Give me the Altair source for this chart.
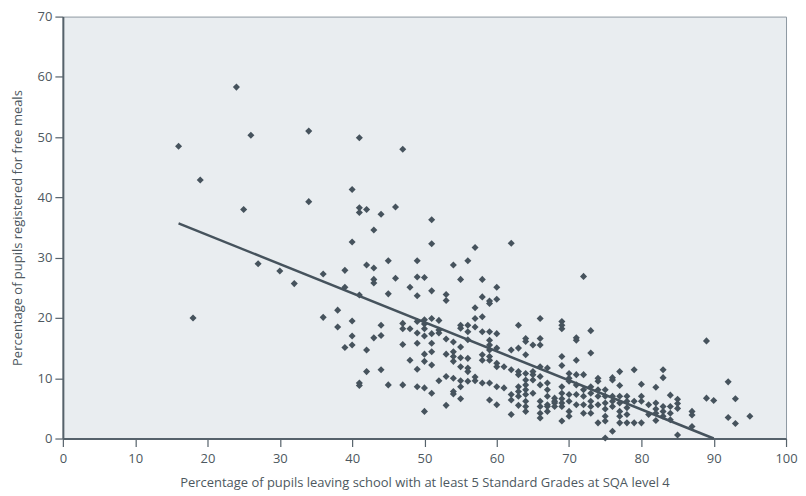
import altair as alt
import pandas as pd

# Percentage of pupils leaving school with at least 5 Standard Grades at SQA level 4
leavers_pct = [
    16, 18, 19, 24, 25, 26, 27, 30, 32, 34, 34,
    36, 36, 38, 38, 39, 39, 39,
    40, 40, 40, 40, 40,
    41, 41, 41, 41, 41, 41,
    42, 42, 42, 42,
    43, 43, 43, 43, 43,
    44, 44, 44, 44,
    45, 45, 45,
    46, 46,
    47, 47, 47, 47, 47,
    48, 48, 48,
    49, 49, 49, 49, 49, 49, 49, 49,
    50, 50, 50, 50, 50, 50, 50, 50, 50,
    51, 51, 51, 51, 51, 51, 51, 51, 51,
    52, 52, 52, 52,
    53, 53, 53, 53, 53, 53,
    54, 54, 54, 54, 54, 54, 54, 54,
    55, 55, 55, 55, 55, 55, 55, 55, 55,
    56, 56, 56, 56, 56, 56, 56, 56,
    57, 57, 57, 57, 57, 57,
    58, 58, 58, 58, 58, 58, 58,
    59, 59, 59, 59, 59, 59, 59, 59, 59, 59,
    60, 60, 60, 60, 60, 60, 60, 60,
    61, 61,
    62, 62, 62, 62, 62, 62,
    63, 63, 63, 63, 63, 63, 63, 63,
    64, 64, 64, 64, 64, 64, 64, 64, 64, 64, 64,
    65, 65, 65, 65, 65,
    66, 66, 66, 66, 66, 66, 66, 66, 66, 66,
    67, 67, 67, 67, 67, 67, 67,
    68, 68, 68, 68,
    69, 69, 69, 69, 69, 69, 69, 69, 69, 69, 69,
    70, 70, 70, 70, 70, 70, 70,
    71, 71, 71, 71, 71, 71, 71,
    72, 72, 72, 72, 72, 72,
    73, 73, 73, 73, 73, 73, 73,
    74, 74, 74, 74, 74, 74,
    75, 75, 75, 75, 75, 75, 75,
    76, 76, 76, 76, 76, 76,
    77, 77, 77, 77, 77, 77, 77,
    78, 78, 78, 78, 78,
    79, 79, 79,
    80, 80, 80, 80,
    81, 81,
    82, 82, 82, 82, 82,
    83, 83, 83, 83, 83,
    84, 84, 84, 84,
    85, 85, 85, 85,
    87, 87, 87,
    89, 89, 90, 92, 92, 93, 93, 95,
]

# Percentage of pupils registered for free meals
free_meals_pct = [
    48.5, 20.0, 42.9, 58.3, 38.0, 50.3, 29.0, 27.8, 25.7, 51.0, 39.3,
    27.3, 20.1, 21.3, 18.5, 27.9, 25.1, 15.1,
    41.3, 32.6, 19.5, 17.0, 15.5,
    49.9, 38.3, 37.5, 23.8, 9.2, 8.8,
    38.0, 28.8, 14.7, 11.1,
    34.6, 28.3, 26.4, 25.8, 16.7,
    37.2, 18.8, 17.1, 11.4,
    29.5, 24.0, 8.9,
    38.4, 26.6,
    48.0, 19.1, 18.2, 15.6, 8.9,
    25.1, 18.2, 13.0,
    29.5, 26.8, 23.7, 19.4, 17.5, 15.8, 11.5, 8.6,
    26.7, 19.7, 19.0, 18.2, 17.0, 14.0, 12.8, 8.4, 4.5,
    36.3, 32.3, 24.5, 19.9, 17.4, 15.8, 14.4, 12.2, 7.5,
    19.6, 18.0, 17.5, 9.6,
    23.9, 22.9, 16.5, 14.0, 10.3, 5.5,
    28.8, 16.0, 14.4, 13.6, 12.8, 10.0, 7.8, 7.4,
    26.4, 18.8, 18.3, 15.2, 13.4, 11.9, 9.6, 8.6, 6.6,
    29.5, 18.8, 17.7, 16.4, 13.3, 11.7, 11.1, 9.5,
    31.7, 21.7, 19.9, 18.5, 10.2, 9.6,
    26.4, 23.5, 20.2, 17.7, 13.9, 13.0, 9.2,
    22.8, 22.4, 17.7, 16.3, 15.5, 14.7, 13.6, 13.0, 9.2, 6.4,
    25.1, 23.1, 17.4, 15.0, 12.5, 11.9, 8.6, 5.6,
    11.9, 8.4,
    32.4, 14.7, 11.4, 7.3, 6.4, 4.0,
    18.8, 15.0, 11.1, 10.6, 8.6, 7.8, 7.0, 5.5,
    16.6, 16.1, 13.9, 10.8, 9.7, 8.9, 8.1, 7.3, 6.2, 5.3, 4.5,
    15.5, 11.1, 10.6, 9.7, 7.5,
    19.9, 16.6, 15.5, 11.9, 10.3, 8.9, 6.2, 5.3, 4.2, 3.4,
    11.7, 9.2, 8.1, 7.0, 5.6, 5.3, 4.5,
    6.7, 6.2, 5.9, 5.3,
    19.4, 18.8, 18.2, 13.6, 12.1, 8.6, 7.5, 6.6, 5.9, 5.3, 2.9,
    10.8, 10.0, 9.5, 7.3, 6.2, 4.5, 3.7,
    16.7, 16.3, 13.0, 10.6, 8.9, 7.3, 5.6,
    26.9, 10.6, 8.1, 7.0, 5.6, 4.2,
    17.9, 14.2, 8.6, 7.5, 6.2, 5.3, 4.2,
    10.0, 9.5, 8.1, 7.0, 5.6, 2.6,
    8.1, 7.0, 5.9, 4.9, 3.7, 2.9, 0.1,
    10.1, 9.7, 7.0, 6.2, 5.3, 1.2,
    11.1, 8.8, 7.0, 5.9, 4.5, 3.7, 2.6,
    7.0, 6.2, 5.1, 4.0, 2.6,
    11.4, 6.2, 2.6,
    9.0, 7.0, 6.2, 2.6,
    5.6, 4.0,
    8.5, 5.9, 4.9, 4.2, 3.0,
    11.4, 10.1, 5.3, 4.5, 3.7,
    7.2, 5.3, 4.2, 3.1,
    6.5, 5.8, 5.0, 0.6,
    4.5, 3.9, 2.0,
    16.2, 6.7, 6.3, 9.4, 3.5, 6.6, 2.5, 3.7,
]

# Fitted trend line end points
fit_x = [16, 90]
fit_y = [35.7, 0.0]

x_ticks = [0, 10, 20, 30, 40, 50, 60, 70, 80, 90, 100]
y_ticks = [0, 10, 20, 30, 40, 50, 60, 70]

assert len(leavers_pct) == len(free_meals_pct)

df = pd.DataFrame({"x": leavers_pct, "y": free_meals_pct})
fit = pd.DataFrame({"x": fit_x, "y": fit_y})

FONT = "Open Sans, sans-serif"
INK = "#46535d"
TXT = "#4d5860"

x_scale = alt.Scale(domain=[0, 100], nice=False, zero=False)
y_scale = alt.Scale(domain=[0, 70], nice=False, zero=False)

points = alt.Chart(df).mark_point(
    shape="diamond", filled=True, size=50, color=INK, opacity=1
).encode(
    x=alt.X("x:Q", scale=x_scale,
            axis=alt.Axis(values=x_ticks, format="d", labelFlush=False,
                          title="Percentage of pupils leaving school with at least 5 Standard Grades at SQA level 4",
                          titlePadding=11, labelPadding=6)),
    y=alt.Y("y:Q", scale=y_scale,
            axis=alt.Axis(values=y_ticks, format="d", labelFlush=False,
                          title="Percentage of pupils registered for free meals",
                          titlePadding=13, labelPadding=3)),
)

line = alt.Chart(fit).mark_line(color=INK, strokeWidth=2.5).encode(
    x=alt.X("x:Q", scale=x_scale),
    y=alt.Y("y:Q", scale=y_scale),
)

chart = (points + line).properties(
    width=725, height=423,
    autosize=alt.AutoSizeParams(type="none"),
    padding={"left": 55, "top": 8, "right": 12, "bottom": 55},
    background="white",
).configure_view(
    fill="#e9edf0", stroke="#8e99a2", strokeWidth=1
).configure_axis(
    grid=False,
    domainColor="#56626b", domainWidth=2,
    tickColor="#56626b", tickSize=8, tickWidth=1.2,
    labelColor=TXT, labelFontSize=13, labelFont=FONT,
    titleColor=TXT, titleFontSize=13, titleFont=FONT, titleFontWeight="normal",
)

chart.save("out.html", embed_options={"renderer": "svg", "actions": False})
